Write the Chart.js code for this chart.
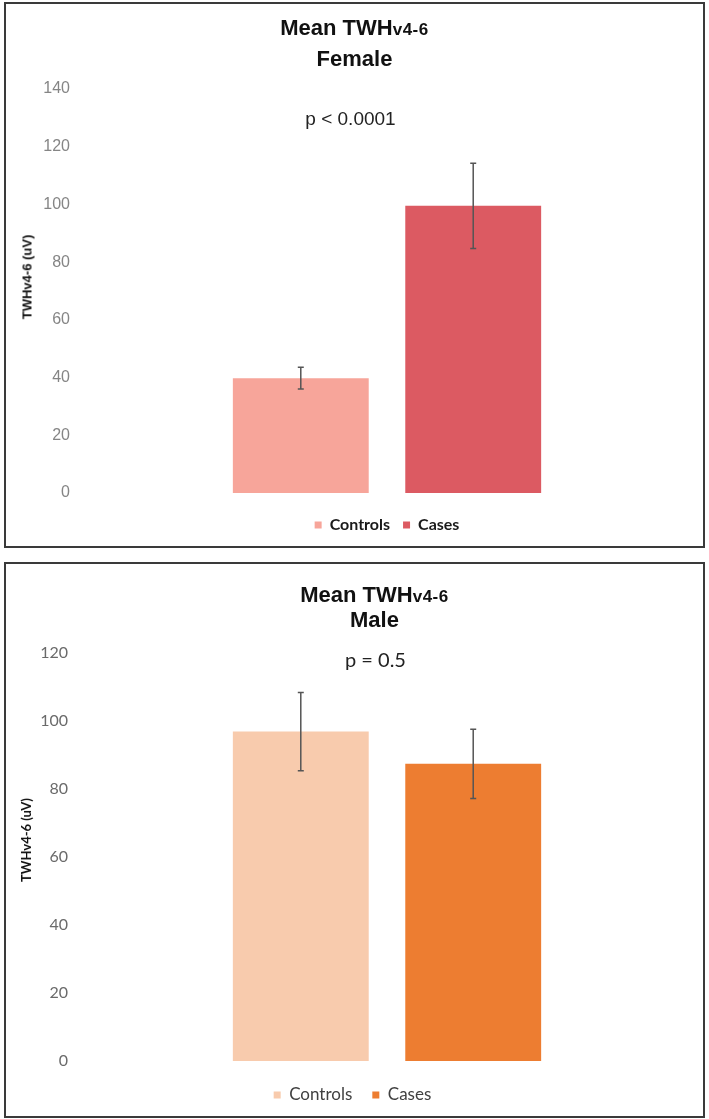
<!DOCTYPE html>
<html>
<head>
<meta charset="utf-8">
<script src="https://cdn.jsdelivr.net/npm/chart.js@4.4.1/dist/chart.umd.min.js"></script>
<style>
  body { margin: 0; background: #fff; width: 709px; height: 1119px; position: relative; overflow: hidden; }
  .panel { position: absolute; left: 4px; width: 697px; border: 2px solid #3a3a3a; background: #fff; }
  #p1 { top: 2px; height: 542px; }
  #p2 { top: 562px; height: 552px; }
  canvas { position: absolute; left: 0; top: 0; }
  .title { position: absolute; width: 697px; text-align: center; font-weight: bold; color: #111;
           font-family: "Liberation Sans", Arial, sans-serif; font-size: 22px; white-space: nowrap; }
  .title span { font-size: 17px; letter-spacing: 0.5px; }
  .pval { position: absolute; width: 697px; text-align: center; color: #222; white-space: nowrap; }
  .ytitle { position: absolute; font-weight: bold; color: #111; white-space: nowrap;
            transform: translate(-50%, -50%) rotate(-90deg); }
</style>
</head>
<body>
<div class="panel" id="p1">
  <canvas id="female" width="697" height="542"></canvas>
  <div class="title" style="left:0; top:9px; line-height:29px;">Mean TWH<span>v4-6</span><br>Female</div>
  <div class="pval" style="left:-4px; top:105px; font:19px/19px 'Liberation Sans', Arial, sans-serif;">p &lt; 0.0001</div>
  <div class="ytitle" style="left:21px; top:273px; font:bold 13px 'Liberation Sans', Arial, sans-serif;">TWHv4-6 (uV)</div>
</div>
<div class="panel" id="p2">
  <canvas id="male" width="697" height="552"></canvas>
  <div class="title" style="left:20px; top:19px; line-height:23px;">Mean TWH<span>v4-6</span><br>Male</div>
  <div class="pval" style="left:21px; top:85px; font:20px/20px Lato, sans-serif;">p = 0.5</div>
  <div class="ytitle" style="left:20px; top:276px; font:bold 13px Lato, sans-serif;">TWHv4-6 (uV)</div>
</div>
<script>
const categories = [''];
const seriesNames = ['Controls', 'Cases'];

const femaleMeans = [39.8, 99.5];
const femaleErrors = [3.8, 14.8];
const femaleColors = ['#F7A59A', '#DC5A62'];
const femaleAxis = { min: 0, max: 140, step: 20 };

const maleMeans = [96.9, 87.4];
const maleErrors = [11.5, 10.2];
const maleColors = ['#F8CBAD', '#ED7D31'];
const maleAxis = { min: 0, max: 120, step: 20 };

// draws mean +/- error whiskers on top of each bar
const errorBars = {
  id: 'errorBars',
  afterDatasetsDraw(chart) {
    const { ctx } = chart;
    const y = chart.scales.y;
    chart.data.datasets.forEach((ds, i) => {
      chart.getDatasetMeta(i).data.forEach((bar, j) => {
        const v = ds.data[j], e = ds.errors[j];
        const top = y.getPixelForValue(v + e);
        const bot = y.getPixelForValue(v - e);
        ctx.save();
        ctx.strokeStyle = '#555';
        ctx.lineWidth = 1.5;
        ctx.beginPath();
        ctx.moveTo(bar.x, top); ctx.lineTo(bar.x, bot);
        ctx.moveTo(bar.x - 3, top); ctx.lineTo(bar.x + 3, top);
        ctx.moveTo(bar.x - 3, bot); ctx.lineTo(bar.x + 3, bot);
        ctx.stroke();
        ctx.restore();
      });
    });
  }
};

function makeChart(id, means, errors, colors, axis, cfg) {
  const datasets = seriesNames.map((name, i) => ({
    label: name,
    data: [means[i]],
    errors: [errors[i]],
    backgroundColor: colors[i],
    borderWidth: 0,
    categoryPercentage: 0.558,
    barPercentage: 0.788,
  }));

  return new Chart(document.getElementById(id), {
    type: 'bar',
    data: { labels: categories, datasets },
    options: {
      responsive: false,
      animation: false,
      layout: { padding: cfg.padding },
      scales: {
        x: {
          ticks: { display: false },
          grid: { display: false, drawTicks: false },
          border: { display: false },
          afterFit(scale) { scale.height = cfg.xHeight; },
        },
        y: {
          min: axis.min,
          max: axis.max,
          ticks: { stepSize: axis.step, padding: cfg.tickPad, color: cfg.tickColor, font: cfg.tickFont },
          grid: { display: false, drawTicks: false },
          border: { display: false },
          afterFit(scale) { scale.width = cfg.yWidth; },
        },
      },
      plugins: {
        tooltip: { enabled: false },
        legend: {
          position: 'bottom',
          fullSize: cfg.legendFull,
          labels: {
            boxWidth: 7,
            boxHeight: 7,
            padding: cfg.legendPad,
            color: cfg.legendColor,
            font: cfg.legendFont,
          },
        },
      },
    },
    plugins: [errorBars],
  });
}

makeChart('female', femaleMeans, femaleErrors, femaleColors, femaleAxis, {
  padding: { left: 10, right: 7, top: 85, bottom: 3 },
  yWidth: 62,
  xHeight: 11,
  tickPad: 8,
  tickColor: '#858585',
  tickFont: { family: "'Liberation Sans', Arial, sans-serif", size: 16 },
  legendFull: false,
  legendPad: 13,
  legendColor: '#1a1a1a',
  legendFont: { family: 'Lato, sans-serif', size: 16, weight: 'bold' },
});

makeChart('male', maleMeans, maleErrors, maleColors, maleAxis, {
  padding: { left: 3, right: 7, top: 89, bottom: 2.5 },
  yWidth: 69,
  xHeight: 5.5,
  tickPad: 10,
  tickColor: '#6a6a6a',
  tickFont: { family: 'Lato, sans-serif', size: 16 },
  legendFull: true,
  legendPad: 20,
  legendColor: '#404040',
  legendFont: { family: 'Lato, sans-serif', size: 17 },
});
</script>
</body>
</html>
